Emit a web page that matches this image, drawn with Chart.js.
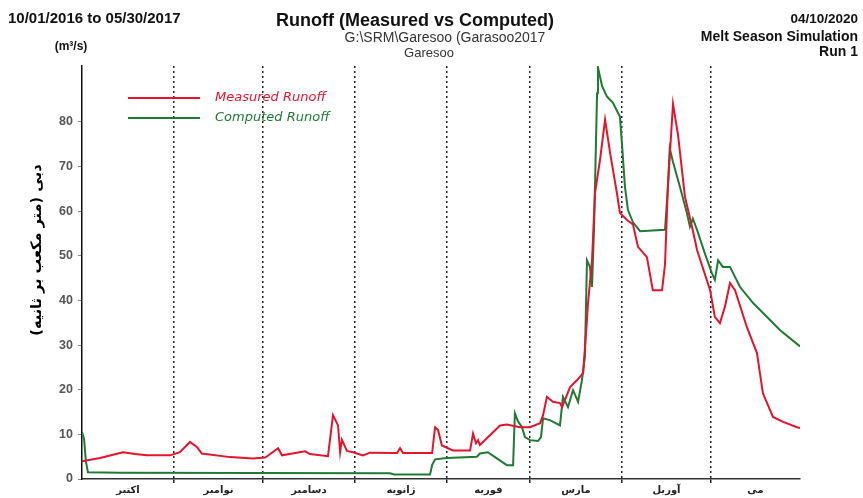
<!DOCTYPE html>
<html>
<head>
<meta charset="utf-8" />
<script src="https://cdn.jsdelivr.net/npm/chart.js@4"></script>
<style>
  html, body { margin: 0; padding: 0; background: #fff; }
  canvas { display: block; }
</style>
</head>
<body>
<canvas id="runoffChart" width="863" height="498"></canvas>
<script>
// day index counted from 10/01/2016 (day 0) to 05/30/2017 (day 242)
const measuredDays = [0, 6.1, 13.8, 17.9, 21.9, 29.7, 33, 36.4, 38.8, 40.4, 49.9, 57.6, 61.7, 62.4, 66.1, 67.4, 75.2, 76.8, 82.9, 84.6, 86.3, 87, 87.6, 89.3, 91.3, 94.7, 97.1, 106.2, 107.2, 108.2, 118, 119, 120, 121.3, 123, 125, 130.8, 131.8, 132.8, 133.5, 134.1, 137.5, 140.9, 143.2, 147.6, 151, 154.4, 155.4, 156.7, 158.7, 161.1, 161.8, 164.5, 166.8, 168.9, 170.2, 170.5, 171.9, 172.9, 174.6, 176.3, 178, 180.3, 181.3, 183.7, 185.7, 187.4, 190.4, 192.4, 195.5, 196.5, 197.5, 199.2, 200.9, 203.2, 205.6, 207.3, 211.7, 213.3, 215, 216.7, 218.4, 220.1, 224.1, 227.5, 229.5, 232.9, 236.3, 241, 242];
const measuredValues = [4, 4.7, 6, 5.6, 5.3, 5.3, 6, 8.3, 7.1, 5.7, 4.9, 4.6, 4.8, 5.1, 6.9, 5.3, 6.2, 5.6, 5.1, 14.3, 12, 6, 8.8, 6.3, 6, 5.3, 5.9, 5.8, 6.9, 5.8, 5.8, 11.6, 11, 7.5, 7, 6.4, 6.4, 10.2, 8, 8.7, 7.6, 9.8, 12, 12.2, 11.6, 11.6, 12.5, 14.3, 18.4, 17.3, 17, 16.1, 20.6, 22.1, 23.7, 35.6, 39, 49, 64, 71.5, 80.5, 73, 64, 59.6, 58, 57, 52, 49.7, 42.3, 42.3, 48, 66, 84, 77, 63.3, 56.5, 51.3, 42.3, 36.3, 34.9, 38.6, 43.9, 42.3, 34, 28.2, 19.2, 13.9, 12.8, 11.6, 11.4];

const computedDays = [0, 0.7, 1.3, 2, 12.8, 103.8, 105.2, 117.3, 118, 119, 123, 133.1, 134.1, 136.8, 139.2, 143.2, 145.3, 145.9, 146.9, 148.3, 149.3, 151, 153.7, 154.7, 155.4, 157.7, 161.1, 162.1, 163.8, 165.5, 167.2, 168.5, 169.5, 170.2, 171.2, 171.9, 172.6, 173.6, 173.9, 175.3, 176.9, 178.9, 181.3, 182, 183, 184, 185.7, 188.1, 196.5, 197.5, 198.1, 199.2, 201.5, 203.9, 204.9, 205.9, 207.3, 209.9, 212.3, 213.3, 214.4, 216, 218.4, 221.8, 226.2, 230.9, 235.3, 242];
const computedValues = [10.5, 9, 4, 1.5, 1.4, 1.3, 1, 1, 3.1, 4.4, 4.7, 5, 5.7, 6, 4.9, 3.1, 3.1, 14.7, 13, 11.6, 9.4, 8.7, 8.5, 9.4, 13.6, 13.2, 12, 18.4, 16.1, 19.9, 17.3, 22.1, 27.4, 49, 47.5, 43, 56.5, 86.4, 92.2, 88, 85.7, 84.3, 81.2, 75, 65.5, 60.3, 57.5, 55.5, 55.8, 65.5, 74, 71, 65.5, 59.5, 56.5, 58.3, 55.8, 50.6, 46.1, 44.6, 49, 47.5, 47.5, 43, 39.4, 36.3, 33.3, 29.7];

const monthNames = ["اکتبر", "نوامبر", "دسامبر", "ژانویه", "فوریه", "مارس", "آوریل", "می"];
const monthStarts = [0, 31, 61, 92, 123, 151, 182, 212];
const monthEnds = [31, 61, 92, 123, 151, 182, 212, 242];
const yTicks = [0, 10, 20, 30, 40, 50, 60, 70, 80];

const measuredColor = "#e3142c";
const computedColor = "#1f7a34";

// month labels sit in the middle of each month, dotted lines on the boundaries
const monthMids = monthStarts.map((s, i) => (s + monthEnds[i]) / 2);
const boundaries = monthEnds.slice(0, -1);

const headerPlugin = {
  id: "header",
  afterDraw(chart) {
    const c = chart.ctx;
    c.save();
    c.fillStyle = "#111";
    c.textBaseline = "middle";

    c.textAlign = "left";
    c.font = "bold 15px 'Liberation Sans'";
    c.fillText("10/01/2016 to 05/30/2017", 8, 19);

    c.textAlign = "center";
    c.font = "bold 18px 'Liberation Sans'";
    c.fillText("Runoff (Measured vs Computed)", 415, 21);
    c.fillStyle = "#333";
    c.font = "14px 'Liberation Sans'";
    c.fillText("G:\\SRM\\Garesoo (Garasoo2017", 445, 38);
    c.font = "13px 'Liberation Sans'";
    c.fillText("Garesoo", 429, 53);

    c.fillStyle = "#111";
    c.textAlign = "right";
    c.font = "bold 13.5px 'Liberation Sans'";
    c.fillText("04/10/2020", 858, 19);
    c.font = "bold 14px 'Liberation Sans'";
    c.fillText("Melt Season Simulation", 858, 37);
    c.fillText("Run 1", 858, 52);

    // unit above the y axis
    c.textAlign = "center";
    c.font = "bold 12px 'Liberation Sans'";
    c.fillText("(m³/s)", 71, 47);

    // y axis title (Persian)
    c.save();
    c.translate(37, 250);
    c.rotate(-Math.PI / 2);
    c.direction = "rtl";
    c.textAlign = "center";
    c.font = "bold 14.5px 'DejaVu Sans'";
    c.fillStyle = "#000";
    c.fillText("دبی (متر مکعب بر ثانیه)", 0, 0);
    c.restore();

    // legend inside the plot
    chart.data.datasets.forEach((ds, i) => {
      const y = 98 + i * 20;
      c.strokeStyle = ds.borderColor;
      c.lineWidth = 2;
      c.beginPath();
      c.moveTo(128, y);
      c.lineTo(200, y);
      c.stroke();
      c.fillStyle = ds.borderColor;
      c.textAlign = "left";
      c.font = "italic 13px 'DejaVu Sans'";
      c.fillText(ds.label, 215, y);
    });
    c.restore();
  },
};

var ctx = document.getElementById("runoffChart").getContext("2d");
var runoffChart = new Chart(ctx, {
  type: "line",
  data: {
    datasets: [
      {
        label: "Measured Runoff",
        data: measuredDays.map((d, i) => ({ x: d, y: measuredValues[i] })),
        borderColor: measuredColor,
        borderWidth: 2,
        pointRadius: 0,
        tension: 0,
      },
      {
        label: "Computed Runoff",
        data: computedDays.map((d, i) => ({ x: d, y: computedValues[i] })),
        borderColor: computedColor,
        borderWidth: 2,
        pointRadius: 0,
        tension: 0,
      },
    ],
  },
  options: {
    responsive: false,
    animation: false,
    layout: { padding: { top: 66, right: 63, left: 0, bottom: 0 } },
    plugins: {
      legend: { display: false },
      tooltip: { enabled: false },
    },
    scales: {
      x: {
        type: "linear",
        min: 0,
        max: 242,
        afterFit: (s) => { s.height = 19; },
        afterBuildTicks: (s) => {
          const vals = [];
          monthMids.forEach((m, i) => {
            vals.push(m);
            if (i < boundaries.length) vals.push(boundaries[i]);
          });
          s.ticks = vals.map((v) => ({ value: v }));
        },
        ticks: {
          autoSkip: false,
          maxRotation: 0,
          padding: 1,
          color: "#222",
          font: { family: "'DejaVu Sans'", size: 10, weight: "bold" },
          callback: (value) => {
            const idx = monthMids.indexOf(value);
            return idx >= 0 ? monthNames[idx] : "";
          },
        },
        grid: {
          color: (c) => (c.tick && boundaries.includes(c.tick.value) ? "#222" : "rgba(0,0,0,0)"),
          lineWidth: 1.5,
          tickLength: 4,
          tickColor: (c) => (c.tick && boundaries.includes(c.tick.value) ? "#222" : "rgba(0,0,0,0)"),
          tickBorderDash: [],
        },
        border: { color: "#333", width: 1.5, dash: [2, 3] },
      },
      y: {
        min: 0,
        max: 92.5,
        afterFit: (s) => { s.width = 82; },
        afterBuildTicks: (s) => {
          s.ticks = yTicks.map((v) => ({ value: v }));
        },
        ticks: {
          padding: 5,
          color: "#555",
          font: { family: "'Liberation Sans'", size: 12.5, weight: "bold" },
        },
        grid: {
          drawOnChartArea: false,
          tickLength: 4,
          tickColor: "#888",
        },
        border: { color: "#111", width: 1.5 },
      },
    },
  },
  plugins: [headerPlugin],
});
</script>
</body>
</html>
